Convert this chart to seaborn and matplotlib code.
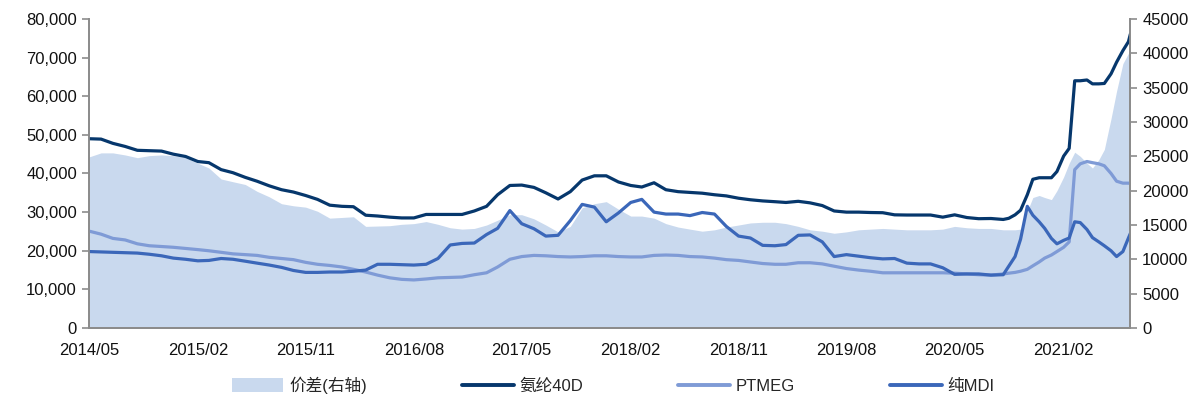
import matplotlib
matplotlib.use("Agg")
import matplotlib.pyplot as plt
import matplotlib.dates as mdates
from matplotlib.patches import Patch
from matplotlib.lines import Line2D
from matplotlib.ticker import FuncFormatter, MultipleLocator
import seaborn as sns
import pandas as pd

sns.set_style("white")
plt.rcParams["font.family"] = ["Liberation Sans", "Noto Sans CJK SC", "DejaVu Sans"]

# dates: monthly, then semi-monthly for the last year
dates = (list(pd.date_range("2014-05-01", "2020-08-01", freq="MS"))
         + list(pd.date_range("2020-09-01", "2021-07-15", freq="SMS"))
         + [pd.Timestamp("2021-07-20")])

# 氨纶40D (left axis)
spandex = [
    49000, 48900, 47800, 47000, 46000, 45900, 45800, 45000, 44400, 43100, 42800, 41000,
    40200, 39000, 38000, 36800, 35800, 35200, 34300, 33300, 31800, 31500, 31400, 29200,
    29000, 28700, 28500, 28500, 29400, 29400, 29400, 29400, 30300, 31500, 34500, 36900,
    37000, 36400, 35000, 33400, 35300, 38300, 39400, 39400, 37800, 36900, 36500, 37600,
    35800, 35300, 35100, 34900, 34500, 34200, 33600, 33200, 32900, 32700, 32500, 32800,
    32400, 31700, 30300, 30000, 30000, 29900, 29850, 29300, 29250, 29250, 29250, 28700,
    29300, 28600, 28300, 28350,
    28100, 28400, 29300, 30500, 34500, 38500, 38900, 38900, 38900, 40500, 44500, 46500,
    64000, 64000, 64200, 63200, 63200, 63300, 65800, 68800, 71800, 74100, 76100,
]

# PTMEG (left axis)
ptmeg = [
    25100, 24300, 23200, 22800, 21800, 21300, 21100, 20900, 20600, 20300, 20000, 19600,
    19200, 19000, 18800, 18300, 18000, 17700, 17000, 16500, 16200, 15800, 15200, 14500,
    13700, 13000, 12600, 12450, 12700, 13000, 13100, 13200, 13800, 14300, 15800, 17800,
    18500, 18800, 18700, 18500, 18400, 18500, 18700, 18700, 18500, 18400, 18400, 18800,
    18900, 18800, 18500, 18400, 18100, 17700, 17500, 17100, 16700, 16500, 16500, 16900,
    16900, 16600, 16000, 15400, 15000, 14700, 14300, 14300, 14300, 14300, 14300, 14300,
    14200, 14000, 13800, 13700,
    14000, 14200, 14400, 14700, 15200, 16100, 17100, 18100, 18900, 19800, 20900, 22300,
    41000, 42500, 43100, 42800, 42500, 42000, 40000, 38000, 37500, 37500, 37400,
]

# 纯MDI (left axis)
mdi = [
    19800, 19700, 19600, 19500, 19400, 19100, 18700, 18100, 17800, 17400, 17500, 18000,
    17800, 17300, 16800, 16300, 15700, 14900, 14400, 14400, 14500, 14500, 14700, 15000,
    16500, 16500, 16400, 16300, 16500, 18000, 21500, 21900, 22000, 24200, 25800, 30400,
    27000, 25700, 23800, 24000, 27800, 32000, 31300, 27500, 29800, 32500, 33300, 30000,
    29500, 29500, 29100, 29900, 29500, 26300, 23800, 23300, 21400, 21300, 21600, 24000,
    24100, 22300, 18500, 19000, 18600, 18200, 17900, 18000, 16800, 16600, 16600, 15600,
    13900, 14000, 14000, 13700,
    13800, 16000, 18500, 23000, 31500, 29200, 27500, 25800, 23200, 21800, 22700, 23300,
    27500, 27300, 25500, 23400, 22300, 21300, 20000, 18500, 19800, 23300, 24500,
]

# 价差 (right axis)
spread = [
    24900, 25500, 25500, 25200, 24800, 25100, 25200, 25100, 24800, 24000, 23300, 21700,
    21300, 20900, 19900, 19100, 18100, 17800, 17600, 17000, 16000, 16100, 16200, 14800,
    14850, 14900, 15100, 15200, 15500, 15100, 14600, 14400, 14500, 15000, 15700, 16500,
    16500, 15900, 15000, 14000, 14800, 17500, 18100, 18400, 17300, 16300, 16300, 16000,
    15200, 14700, 14400, 14100, 14300, 14700, 15000, 15300, 15400, 15400, 15200, 14800,
    14300, 14100, 13800, 14000, 14300, 14400, 14500, 14400, 14300, 14300, 14300, 14400,
    14800, 14600, 14500, 14500,
    14300, 14300, 14300, 14400, 17000, 19000, 19300, 19000, 18700, 20000, 22000, 24000,
    25600, 25000, 24000, 23300, 24500, 26000, 30500, 34500, 38500, 40000, 40300,
]

tick_dates = ["2014-05-01", "2015-02-01", "2015-11-01", "2016-08-01", "2017-05-01",
              "2018-02-01", "2018-11-01", "2019-08-01", "2020-05-01", "2021-02-01"]

C_AREA = "#c9d9ee"
C_SPANDEX = "#06376c"
C_PTMEG = "#7f9bd6"
C_MDI = "#3b67b9"
C_AXIS = "#8c8c8c"

df = pd.DataFrame({"date": dates, "spandex": spandex, "ptmeg": ptmeg,
                   "mdi": mdi, "spread": spread})

fig = plt.figure(figsize=(12, 4.03), dpi=100)
ax = fig.add_axes([0.074, 0.186, 0.868, 0.767])
ax2 = ax.twinx()

# area on the right axis, kept behind the lines
ax2.fill_between(df["date"], 0, df["spread"], color=C_AREA, linewidth=0)
ax.set_zorder(ax2.get_zorder() + 1)
ax.patch.set_visible(False)

sns.lineplot(data=df, x="date", y="ptmeg", ax=ax, color=C_PTMEG, linewidth=2.3)
sns.lineplot(data=df, x="date", y="mdi", ax=ax, color=C_MDI, linewidth=2.3)
sns.lineplot(data=df, x="date", y="spandex", ax=ax, color=C_SPANDEX, linewidth=2.3)

ax.set_xlim(pd.Timestamp("2014-05-01"), pd.Timestamp("2021-07-20"))
ax.set_ylim(0, 80000)
ax2.set_ylim(0, 45000)
ax.yaxis.set_major_locator(MultipleLocator(10000))
ax2.yaxis.set_major_locator(MultipleLocator(5000))
ax.yaxis.set_major_formatter(FuncFormatter(lambda v, p: f"{int(v):,}"))
ax2.yaxis.set_major_formatter(FuncFormatter(lambda v, p: f"{int(v)}"))
ax.set_xticks(pd.to_datetime(tick_dates))
ax.xaxis.set_major_formatter(mdates.DateFormatter("%Y/%m"))
ax.set_xlabel("")
ax.set_ylabel("")

for a in (ax, ax2):
    for side in ("left", "right", "bottom"):
        a.spines[side].set_color(C_AXIS)
        a.spines[side].set_linewidth(1.3)
    a.spines["top"].set_visible(False)
    a.tick_params(axis="both", direction="out", length=5, width=1.2,
                  color=C_AXIS, labelsize=12, labelcolor="#111111")
ax.tick_params(axis="x", pad=6)
ax.tick_params(axis="y", left=True)
ax2.tick_params(axis="y", right=True)

handles = [
    Patch(facecolor=C_AREA, edgecolor="none"),
    Line2D([], [], color=C_SPANDEX, linewidth=2.8),
    Line2D([], [], color=C_PTMEG, linewidth=2.8),
    Line2D([], [], color=C_MDI, linewidth=2.8),
]
labels = ["价差(右轴)", "氨纶40D", "PTMEG", "纯MDI"]
fig.legend(handles, labels, loc="lower center", bbox_to_anchor=(0.511, -0.015),
           ncol=4, frameon=False, fontsize=12, handlelength=3.1,
           handleheight=0.9, handletextpad=0.35, columnspacing=5.7)

fig.savefig("out.png", dpi=100)
